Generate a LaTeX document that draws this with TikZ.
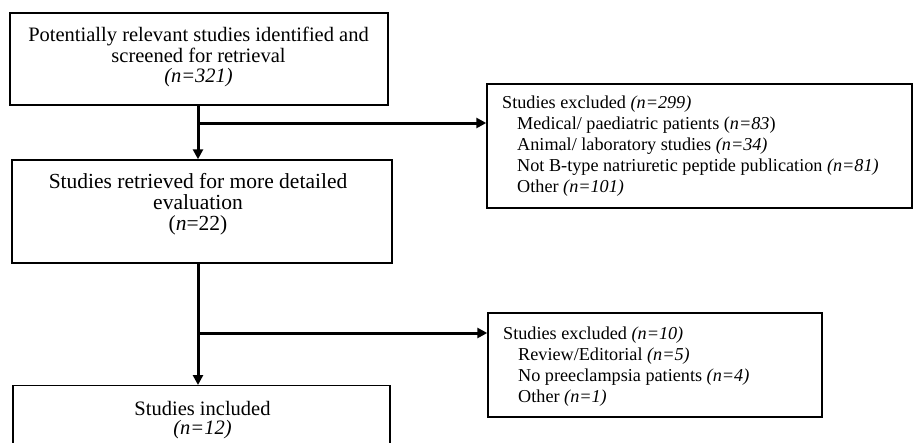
\documentclass[tikz,border=0pt]{standalone}
\usepackage{fontspec}
\setmainfont{Liberation Serif}
\usetikzlibrary{arrows.meta}
\begin{document}
\begin{tikzpicture}[x=1pt,y=-1pt,
  box/.style={draw=black,line width=1.4pt,inner sep=0pt},
  maintext/.style={align=center,inner sep=0pt,anchor=north},
  extext/.style={align=left,inner sep=0pt,anchor=north west,
    font=\fontsize{18.2}{20.8}\selectfont},
  arr/.style={line width=3pt,-{Triangle[length=10pt,width=10pt]}}]
\useasboundingbox (0,0) rectangle (916,442);
\fill[white] (0,0) rectangle (916,442);
% boxes
\node[box,minimum width=378pt,minimum height=92pt] (box1) at (199,59) {};
\node[box,minimum width=380pt,minimum height=103pt] (box2) at (202,211.5) {};
\node[box,minimum width=377pt,minimum height=70pt,anchor=north] (box3) at (201.5,385) {};
\node[box,minimum width=425pt,minimum height=124pt] (exc1) at (699.5,146) {};
\node[box,minimum width=334pt,minimum height=104pt] (exc2) at (655,365) {};
% texts
\node[maintext,font=\fontsize{20.5}{20.5}\selectfont] (t1) at (198.5,27)
  {Potentially relevant studies identified and\\screened for retrieval\\\textit{(n=321)}};
\node[maintext,font=\fontsize{21.5}{21}\selectfont] (t2) at (198,173)
  {Studies retrieved for more detailed\\evaluation\\(\textit{n}=22)};
\node[maintext,font=\fontsize{20.5}{19.5}\selectfont] (t3) at (202.5,401)
  {Studies included\\\textit{(n=12)}};
\node[extext] (e1) at (502,96)
  {Studies excluded \textit{(n=299)}\\
   \hspace*{15pt}Medical/ paediatric patients (\textit{n=83})\\
   \hspace*{15pt}Animal/ laboratory studies \textit{(n=34)}\\
   \hspace*{15pt}Not B-type natriuretic peptide publication \textit{(n=81)}\\
   \hspace*{15pt}Other \textit{(n=101)}};
\node[extext] (e2) at (503,327)
  {Studies excluded \textit{(n=10)}\\
   \hspace*{15pt}Review/Editorial \textit{(n=5)}\\
   \hspace*{15pt}No preeclampsia patients \textit{(n=4)}\\
   \hspace*{15pt}Other \textit{(n=1)}};
% connectors
\coordinate (j1) at (198,123);
\coordinate (j2) at (198,333);
\draw[arr] (box1.south -| j1) -- (j1 |- box2.north);
\draw[arr] (j1) -- (j1 -| exc1.west);
\draw[arr] (box2.south -| j2) -- (j2 |- box3.north);
\draw[arr] (j2) -- (j2 -| exc2.west);
\end{tikzpicture}
\end{document}
